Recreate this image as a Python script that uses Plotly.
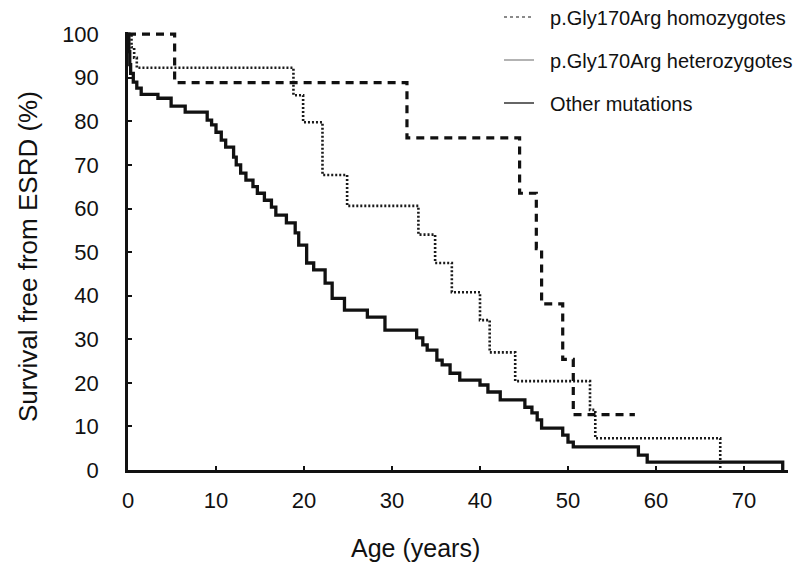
import plotly.graph_objects as go

# ---- data (age in years, survival free from ESRD in %) ----
other_age = [0, 0.1, 0.2, 0.3, 0.6, 1.0, 1.5, 3.4, 4.9, 6.5, 9.0, 9.5, 10.0, 10.6, 11.1,
             12.0, 12.3, 12.8, 13.4, 14.2, 14.7, 15.5, 16.3, 16.8, 18.0, 19.0, 19.4,
             20.3, 21.1, 22.4, 23.2, 24.6, 27.2, 29.2, 32.8, 33.5, 34.0, 35.1, 35.7,
             36.6, 37.7, 40.0, 40.9, 42.3, 45.1, 45.9, 46.5, 47.0, 49.4, 50.0, 50.6,
             58.0, 59.0, 74.4]
other_surv = [100, 96, 93, 91, 89, 87.6, 86.2, 85.3, 83.5, 82.1, 80.3, 79.2, 77.5, 75.7, 74.1,
              71.8, 70.0, 68.1, 66.5, 65.0, 63.5, 61.9, 60.3, 58.5, 56.7, 54.4, 51.6,
              47.5, 45.9, 42.9, 39.4, 36.7, 35.1, 32.1, 30.3, 28.7, 27.5, 25.2, 24.1,
              22.2, 20.6, 19.5, 17.9, 16.1, 14.4, 13.1, 11.5, 9.6, 8.0, 6.4, 5.3,
              3.4, 1.8, 0]

het_age = [0, 0.4, 0.7, 1.0, 18.8, 19.9, 22.1, 24.9, 33.0, 34.9, 36.8, 40.0, 41.1, 44.0,
           52.5, 53.1, 67.3]
het_surv = [100, 97, 94.6, 92.3, 86.0, 79.8, 67.7, 60.6, 54.0, 47.5, 40.8, 34.4, 27.0, 20.4,
            13.8, 7.3, 0]

hom_age = [0, 5.3, 31.7, 44.5, 46.4, 47.0, 49.4, 50.6, 57.6]
hom_surv = [100, 88.9, 76.2, 63.5, 50.8, 38.1, 25.4, 12.7, 12.7]

names = ["p.Gly170Arg homozygotes", "p.Gly170Arg heterozygotes", "Other mutations"]

FONT = "Liberation Sans, Arial, Helvetica, sans-serif"
INK = "#111111"
PAD = "\u00a0\u00a0"

fig = go.Figure()

fig.add_trace(go.Scatter(x=other_age, y=other_surv, mode="lines", line_shape="hv",
                         line=dict(color=INK, width=3.3), showlegend=False))
fig.add_trace(go.Scatter(x=het_age, y=het_surv, mode="lines", line_shape="hv",
                         line=dict(color="#1a1a1a", width=2.6, dash="2px,2px"), showlegend=False))
fig.add_trace(go.Scatter(x=hom_age, y=hom_surv, mode="lines", line_shape="hv",
                         line=dict(color=INK, width=3.2, dash="8px,6px"), showlegend=False))

# legend entries (three separately placed legends)
fig.add_trace(go.Scatter(x=[None], y=[None], mode="lines", name=PAD + names[0],
                         line=dict(color="#8a8a8a", width=2, dash="3px,3px"), legend="legend"))
fig.add_trace(go.Scatter(x=[None], y=[None], mode="lines", name=PAD + names[1],
                         line=dict(color="#9a9a9a", width=1.6), legend="legend2"))
fig.add_trace(go.Scatter(x=[None], y=[None], mode="lines", name=PAD + names[2],
                         line=dict(color="#333333", width=1.6), legend="legend3"))

W, H = 800, 563
L, B = 128, 93
PLOT_RIGHT, PLOT_TOP = 788, 32
paper_w, paper_h = W - L, H - B


def px_x(x):
    return (x - L) / paper_w


def px_y(y):
    return (H - B - y) / paper_h


leg_common = dict(bgcolor="rgba(0,0,0,0)", borderwidth=0, xanchor="left", yanchor="middle",
                  font=dict(family=FONT, size=20, color=INK), itemwidth=30)

fig.update_layout(
    width=W, height=H,
    margin=dict(l=L, r=0, t=0, b=B, autoexpand=False),
    plot_bgcolor="white", paper_bgcolor="white",
    font=dict(family=FONT, color=INK),
    legend=dict(x=px_x(499), y=px_y(17), **leg_common),
    legend2=dict(x=px_x(499), y=px_y(60), **leg_common),
    legend3=dict(x=px_x(499), y=px_y(103), **leg_common),
    xaxis=dict(domain=[0, px_x(PLOT_RIGHT)], range=[0, 75], tickvals=[0, 10, 20, 30, 40, 50, 60, 70],
               showgrid=False, zeroline=False, showline=True, linecolor=INK, linewidth=2.5,
               ticks="inside", ticklen=4, tickwidth=1.5, tickcolor=INK, automargin=False,
               tickfont=dict(family=FONT, size=22, color=INK), ticklabelstandoff=9),
    yaxis=dict(domain=[0, px_y(PLOT_TOP)], range=[0, 100.5], tickvals=list(range(0, 101, 10)),
               showgrid=False, zeroline=False, showline=True, linecolor=INK, linewidth=2.5,
               ticks="inside", ticklen=4, tickwidth=1.5, tickcolor=INK, automargin=False,
               tickfont=dict(family=FONT, size=22, color=INK), ticklabelstandoff=22),
    annotations=[
        dict(text="Age (years)", xref="paper", yref="paper", x=px_x(415), y=px_y(548),
             showarrow=False, xanchor="center", yanchor="middle",
             font=dict(family=FONT, size=25, color=INK)),
        dict(text="Survival free from ESRD (%)", xref="paper", yref="paper",
             x=px_x(28), y=px_y(257), textangle=-90, showarrow=False,
             xanchor="center", yanchor="middle",
             font=dict(family=FONT, size=26, color=INK)),
    ],
)

fig.write_html("out.html")
